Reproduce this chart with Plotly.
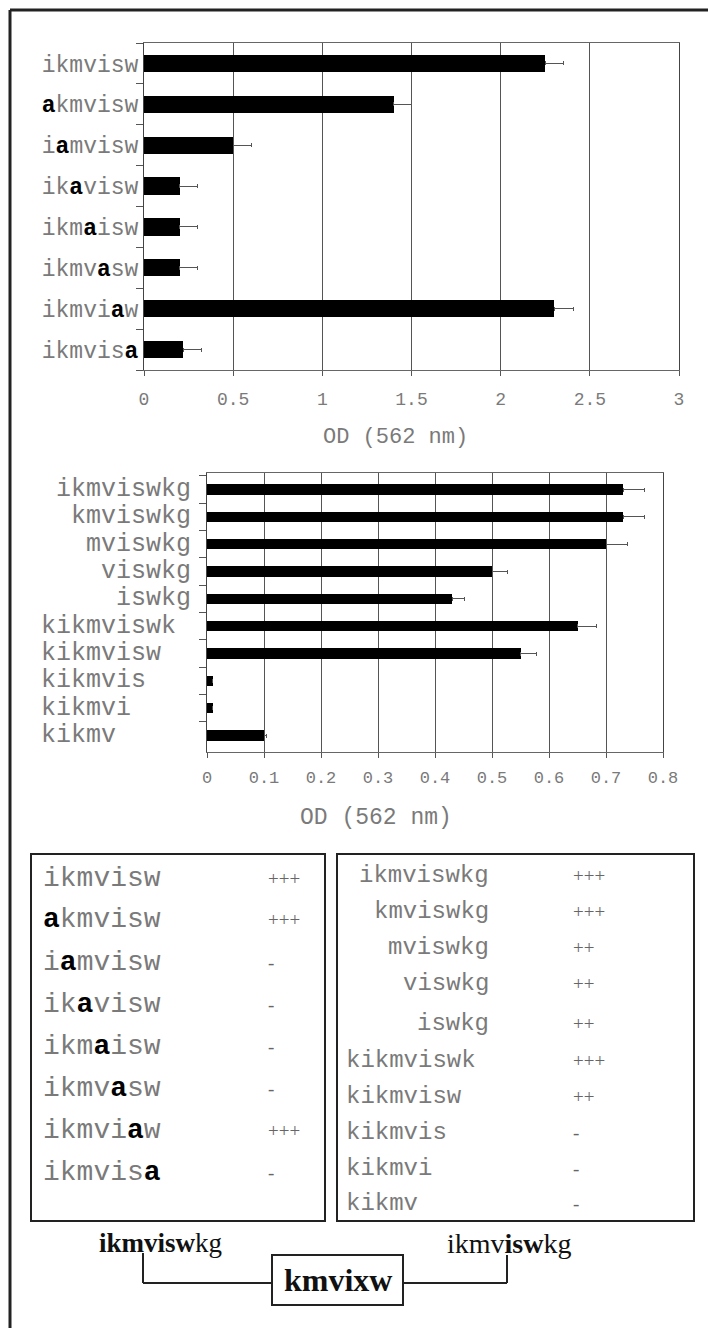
import plotly.graph_objects as go

# ---------------- data ----------------
wild_type = "ikmvisw"
top_labels = ["ikmvisw", "akmvisw", "iamvisw", "ikavisw", "ikmaisw", "ikmvasw", "ikmviaw", "ikmvisa"]
top_values = [2.25, 1.40, 0.50, 0.20, 0.20, 0.20, 2.30, 0.22]
top_errors = [0.10, 0.10, 0.10, 0.10, 0.10, 0.10, 0.11, 0.10]
top_ticks = [0, 0.5, 1, 1.5, 2, 2.5, 3]

mid_labels = ["ikmviswkg", "kmviswkg", "mviswkg", "viswkg", "iswkg",
              "kikmviswk", "kikmvisw", "kikmvis", "kikmvi", "kikmv"]
mid_values = [0.73, 0.73, 0.70, 0.50, 0.43, 0.65, 0.55, 0.01, 0.01, 0.10]
mid_errors = [0.037, 0.037, 0.037, 0.027, 0.022, 0.034, 0.028, 0.0, 0.0, 0.005]
mid_ticks = [0, 0.1, 0.2, 0.3, 0.4, 0.5, 0.6, 0.7, 0.8]

top_signs = ["+++", "+++", "-", "-", "-", "-", "+++", "-"]
mid_signs = ["+++", "+++", "++", "++", "++", "+++", "++", "-", "-", "-"]

axis_title = "OD (562 nm)"
core_motif = "kmvixw"

# ---------------- helpers ----------------
W, H = 708, 1328
def px(x): return x / W
def py(y): return 1 - y / H

MONO = "Liberation Mono, Courier New, monospace"
SERIF = "Liberation Serif, Times New Roman, serif"
GRAY_TXT = "#7a7a7a"
DARK = "#222222"

def mark_mutation(lbl):
    out = ""
    for a, b in zip(lbl, wild_type):
        if a != b:
            out += '<span style="color:#000000"><b>%s</b></span>' % a
        else:
            out += a
    return out

top_html = [mark_mutation(l) for l in top_labels]

fig = go.Figure()

fig.add_trace(go.Bar(
    x=top_values, y=top_labels, orientation="h",
    marker=dict(color="#000000", line=dict(width=0)), width=0.42,
    error_x=dict(type="data", symmetric=False, array=top_errors,
                 arrayminus=[0] * len(top_errors),
                 color="#555555", thickness=1, width=2),
    xaxis="x", yaxis="y", showlegend=False))

fig.add_trace(go.Bar(
    x=mid_values, y=mid_labels, orientation="h",
    marker=dict(color="#000000", line=dict(width=0)), width=0.38,
    error_x=dict(type="data", symmetric=False, array=mid_errors,
                 arrayminus=[0] * len(mid_errors),
                 color="#555555", thickness=1, width=2),
    xaxis="x2", yaxis="y2", showlegend=False))

common_x = dict(showgrid=True, gridcolor="#555555", gridwidth=1, zeroline=False,
                showline=True, linecolor="#666666", linewidth=1, mirror=True,
                ticks="outside", ticklen=5, tickcolor="#555555", automargin=False)
common_y = dict(type="category", autorange="reversed", showgrid=False, zeroline=False,
                showline=True, linecolor="#444444", linewidth=1, mirror=True,
                ticks="outside", tickson="boundaries", ticklen=7, tickcolor="#555555",
                automargin=False)

fig.update_layout(
    width=W, height=H, autosize=False,
    margin=dict(l=0, r=0, t=0, b=0, pad=0),
    paper_bgcolor="white", plot_bgcolor="white",
    bargap=0, showlegend=False,
    xaxis=dict(domain=[px(144), px(679)], anchor="y", range=[0, 3],
               tickvals=top_ticks, ticktext=[("%g" % v) for v in top_ticks],
               ticklabelstandoff=7,
               tickfont=dict(family=MONO, size=18, color=GRAY_TXT), **common_x),
    yaxis=dict(domain=[py(370), py(43)], anchor="x",
               tickvals=top_labels, ticktext=top_html,
               tickfont=dict(family=MONO, size=23, color=GRAY_TXT), **common_y),
    xaxis2=dict(domain=[px(207), px(663)], anchor="y2", range=[0, 0.8],
                tickvals=mid_ticks, ticktext=[("%g" % v) for v in mid_ticks],
                ticklabelstandoff=5,
                tickfont=dict(family=MONO, size=17, color=GRAY_TXT), **common_x),
    yaxis2=dict(domain=[py(752), py(473)], anchor="x2", showticklabels=False, **common_y),
)

ann = []
# axis titles
ann.append(dict(text=axis_title, x=px(396), y=py(437), xref="paper", yref="paper",
                xanchor="center", yanchor="middle", showarrow=False,
                font=dict(family=MONO, size=22, color=GRAY_TXT)))
ann.append(dict(text=axis_title, x=px(376), y=py(818), xref="paper", yref="paper",
                xanchor="center", yanchor="middle", showarrow=False,
                font=dict(family=MONO, size=23, color=GRAY_TXT)))

# middle chart category labels (first 5 right-aligned, rest left-aligned)
N_RIGHT = 5
for i, lbl in enumerate(mid_labels):
    right = i < N_RIGHT
    ann.append(dict(text=lbl, x=px(193) if right else px(39), y=lbl,
                    xref="paper", yref="y2", xanchor="right" if right else "left",
                    yanchor="middle", showarrow=False,
                    font=dict(family=MONO, size=25, color=GRAY_TXT)))

# left summary box
left_rows = [878 + 42 * i for i in range(len(top_labels))]
for lbl, html, s, yy in zip(top_labels, top_html, top_signs, left_rows):
    ann.append(dict(text=html, x=px(41), y=py(yy), xref="paper", yref="paper",
                    xanchor="left", yanchor="middle", showarrow=False,
                    font=dict(family=MONO, size=28, color=GRAY_TXT)))
    ann.append(dict(text=s, x=px(266), y=py(yy), xref="paper", yref="paper",
                    xanchor="left", yanchor="middle", showarrow=False,
                    font=dict(family=SERIF, size=19, color="#666666")))

# right summary box
right_rows = [875, 911, 947, 983, 1023, 1060, 1096, 1132, 1168, 1203]
for i, (lbl, s, yy) in enumerate(zip(mid_labels, mid_signs, right_rows)):
    right = i < N_RIGHT
    ann.append(dict(text=lbl, x=px(491) if right else px(344), y=py(yy),
                    xref="paper", yref="paper", xanchor="right" if right else "left",
                    yanchor="middle", showarrow=False,
                    font=dict(family=MONO, size=24, color=GRAY_TXT)))
    ann.append(dict(text=s, x=px(571), y=py(yy), xref="paper", yref="paper",
                    xanchor="left", yanchor="middle", showarrow=False,
                    font=dict(family=SERIF, size=19, color="#666666")))

# bottom motif labels
ann.append(dict(text="<b>ikmvisw</b>kg", x=px(97), y=py(1243), xref="paper", yref="paper",
                xanchor="left", yanchor="middle", showarrow=False,
                font=dict(family=SERIF, size=27, color="#111111")))
ann.append(dict(text="ikmv<b>isw</b>kg", x=px(445), y=py(1243), xref="paper", yref="paper",
                xanchor="left", yanchor="middle", showarrow=False,
                font=dict(family=SERIF, size=28, color="#111111")))
ann.append(dict(text="<b>%s</b>" % core_motif, x=px(338), y=py(1280), xref="paper", yref="paper",
                xanchor="center", yanchor="middle", showarrow=False,
                font=dict(family=SERIF, size=32, color="#111111")))

fig.update_layout(annotations=ann)

shapes = []
def line(x0, y0, x1, y1, w=2, c=DARK):
    shapes.append(dict(type="line", xref="paper", yref="paper",
                       x0=px(x0), y0=py(y0), x1=px(x1), y1=py(y1),
                       line=dict(color=c, width=w)))
def rect(x0, y0, x1, y1, w=2, c=DARK):
    shapes.append(dict(type="rect", xref="paper", yref="paper",
                       x0=px(x0), y0=py(y0), x1=px(x1), y1=py(y1),
                       line=dict(color=c, width=w)))

# outer frame (top and left)
line(10, 10, 708, 10, w=3)
line(10, 10, 10, 1328, w=3)
# summary boxes
rect(31, 854, 325, 1221)
rect(337, 854, 694, 1221)
# motif box and connectors
rect(272, 1255, 403, 1305)
line(143, 1253, 143, 1283)
line(143, 1283, 272, 1283)
line(403, 1283, 507, 1283)
line(507, 1283, 507, 1255)

fig.update_layout(shapes=shapes)

fig.write_html("out.html", config={"displayModeBar": False, "responsive": False},
               post_script="document.body.style.margin='0';document.body.style.overflow='hidden';")
